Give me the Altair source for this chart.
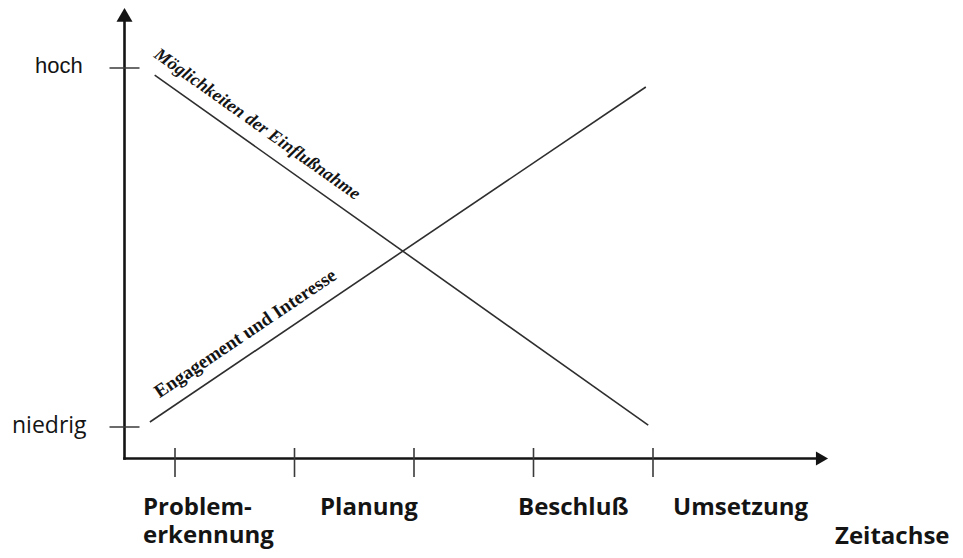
import altair as alt
import pandas as pd

# ---------------- data ----------------
series_names = ["Möglichkeiten der Einflußnahme", "Engagement und Interesse"]
moeg_x = [-0.17, 3.96]     # stage units (0 = first tick)
moeg_y = [0.98, 0.005]     # 0 = niedrig, 1 = hoch
eng_x = [-0.21, 3.94]
eng_y = [0.014, 0.947]

stage_ticks = [0, 1, 2, 3, 4]
stage_labels = ["Problem-\nerkennung", "Planung", "Beschluß", "Umsetzung"]
level_values = [1, 0]
level_labels = ["hoch", "niedrig"]
x_title = "Zeitachse"

# ---------------- layout (page pixels -> data units) ----------------
W, H, M = 947, 542, 8
PX_X0, PX_XU = 175.0, 119.5   # page x of stage 0, pixels per stage
PX_Y0, PX_YU = 427.0, 359.0   # page y of "niedrig", pixels per level unit


def ux(px):
    return (px - PX_X0) / PX_XU


def uy(py):
    return (PX_Y0 - py) / PX_YU


XDOM = [ux(M), ux(M + W)]
YDOM = [uy(M + H), uy(M)]
xs = alt.Scale(domain=XDOM, nice=False, zero=False)
ys = alt.Scale(domain=YDOM, nice=False, zero=False)


def X(f="x"):
    return alt.X(f"{f}:Q", scale=xs, axis=None)


def Y(f="y"):
    return alt.Y(f"{f}:Q", scale=ys, axis=None)


INK = "#141414"

# ---------------- lines ----------------
lines_df = pd.DataFrame(
    [{"series": series_names[0], "i": i, "x": a, "y": b} for i, (a, b) in enumerate(zip(moeg_x, moeg_y))]
    + [{"series": series_names[1], "i": i, "x": a, "y": b} for i, (a, b) in enumerate(zip(eng_x, eng_y))]
)
lines = alt.Chart(lines_df).mark_line(color="#2e2e2e", strokeWidth=1.6).encode(
    x=X(), y=Y(), detail="series:N", order="i:Q"
)

# ---------------- axes with arrows ----------------
ax_x = ux(124.5)
ax_y = uy(458.5)
top_tip = uy(15)
right_tip = ux(822)
axes_df = pd.DataFrame([
    {"x": ax_x, "y": ax_y, "x2": ax_x, "y2": top_tip},
    {"x": ax_x, "y": ax_y, "x2": right_tip, "y2": ax_y},
])
axes = alt.Chart(axes_df).mark_rule(color=INK, strokeWidth=2.6, strokeCap="square").encode(
    x=X(), y=Y(), x2="x2:Q", y2="y2:Q"
)
arrow_up = alt.Chart(pd.DataFrame([{"x": ax_x, "y": uy(14.9)}])).mark_point(
    shape="triangle-up", filled=True, color=INK, opacity=1, size=256, strokeWidth=0
).encode(x=X(), y=Y())
arrow_right = alt.Chart(pd.DataFrame([{"x": ux(822), "y": ax_y}])).mark_point(
    shape="triangle-right", filled=True, color=INK, opacity=1, size=196, strokeWidth=0
).encode(x=X(), y=Y())

# ticks
ytick_df = pd.DataFrame({"x": [ux(109.5)] * 2, "x2": [ux(139.5)] * 2, "y": level_values})
yticks = alt.Chart(ytick_df).mark_rule(color="#3a3a3a", strokeWidth=1.5).encode(
    x=X(), x2="x2:Q", y=Y()
)
xtick_df = pd.DataFrame({"x": stage_ticks, "y": [uy(448)] * 5, "y2": [uy(477)] * 5})
xticks = alt.Chart(xtick_df).mark_rule(color="#3a3a3a", strokeWidth=1.6).encode(
    x=X(), y=Y(), y2="y2:Q"
)

# ---------------- texts ----------------
hoch = alt.Chart(pd.DataFrame([{"x": ux(35), "y": level_values[0], "t": level_labels[0]}])).mark_text(
    align="left", baseline="alphabetic", dy=5, font="Liberation Sans",
    fontSize=22, color=INK
).encode(x=X(), y=Y(), text="t:N")
niedrig = alt.Chart(pd.DataFrame([{"x": ux(12), "y": level_values[1], "t": level_labels[1]}])).mark_text(
    align="left", baseline="alphabetic", dy=6, font="Open Sans", fontSize=23, color=INK
).encode(x=X(), y=Y(), text="t:N")

stage_df = pd.DataFrame({
    "x": [ux(143), ux(320), ux(518), ux(673)],
    "y": [uy(514.5)] * 4,
    "t": stage_labels,
})
stage_text = alt.Chart(stage_df).mark_text(
    align="left", baseline="alphabetic", font="Open Sans", fontWeight="bold", fontSize=24,
    lineBreak="\n", lineHeight=28, color=INK
).encode(x=X(), y=Y(), text="t:N")

title_text = alt.Chart(pd.DataFrame([{"x": ux(835), "y": uy(544), "t": x_title}])).mark_text(
    align="left", baseline="alphabetic", font="Open Sans", fontWeight="bold", fontSize=24, color=INK
).encode(x=X(), y=Y(), text="t:N")


def along(xv, yv, t):
    return xv[0] + t * (xv[1] - xv[0]), yv[0] + t * (yv[1] - yv[0])


mx, my = along(moeg_x, moeg_y, 0.185)
ex, ey = along(eng_x, eng_y, 0.215)
lab1 = alt.Chart(pd.DataFrame([{"x": mx, "y": my, "t": series_names[0]}])).mark_text(
    angle=35.4, align="center", baseline="middle", dy=-19, font="Liberation Serif",
    fontWeight="bold", fontStyle="italic", fontSize=18, color=INK
).encode(x=X(), y=Y(), text="t:N")
lab2 = alt.Chart(pd.DataFrame([{"x": ex, "y": ey, "t": series_names[1]}])).mark_text(
    angle=326, align="center", baseline="middle", dy=-20, font="Liberation Serif",
    fontWeight="bold", fontSize=19, color=INK
).encode(x=X(), y=Y(), text="t:N")

chart = alt.layer(
    lines, axes, arrow_up, arrow_right, yticks, xticks, hoch, niedrig, stage_text, title_text, lab1, lab2
).properties(
    width=W, height=H, padding=0, autosize=alt.AutoSizeParams(type="none"), background="white"
).configure_view(stroke=None)

chart.save("out.html", embed_options={"renderer": "svg", "actions": False})
